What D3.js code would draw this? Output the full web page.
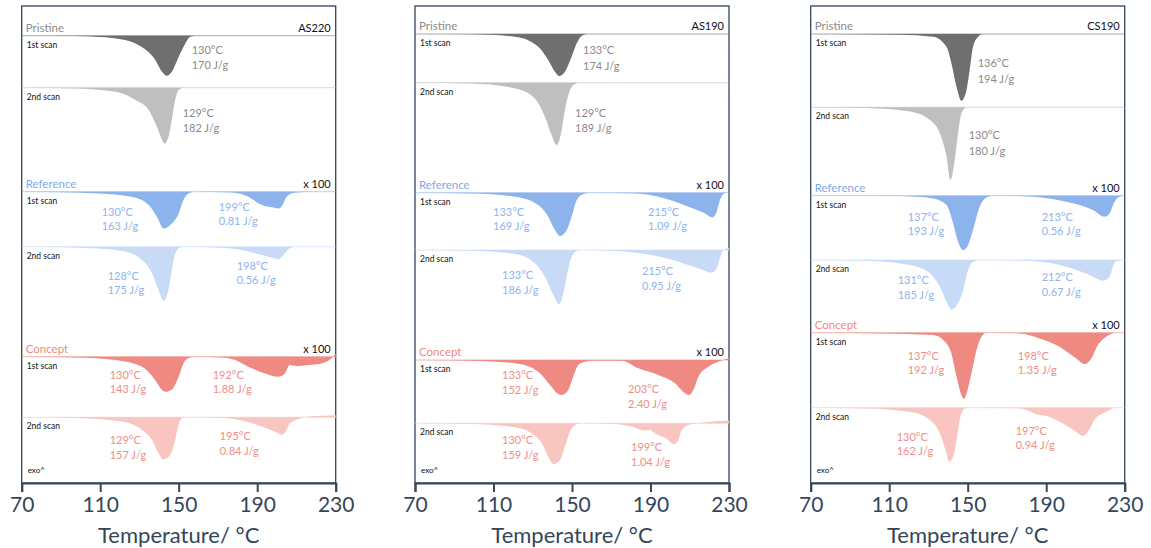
<!DOCTYPE html>
<html>
<head>
<meta charset="utf-8">
<script src="https://cdn.jsdelivr.net/npm/d3@7"></script>
<style>
  body { margin: 0; background: #fff; }
  text { font-family: Lato, "Open Sans", sans-serif; }
</style>
</head>
<body>
<svg width="1151" height="548"></svg>
<script>
const samples = ["AS220", "AS190", "CS190"];
const groups = ["Pristine", "Reference", "Concept"];
const scans = ["1st scan", "2nd scan"];
const tempTicks = [70, 110, 150, 190, 230];

// DSC traces: [T in °C, endothermic depth]
// rows: pristine 1st, pristine 2nd, reference 1st, reference 2nd, concept 1st, concept 2nd
const AS220_curves = [
  [[70,0],[97,0.3],[118,2.7],[131,11],[138,24],[141.5,36],[144,40],[146.5,36],[150,21],[153.3,8],[155.8,1],[159,0],[230,0]],
  [[70,0],[97,0.7],[118,4],[128,12.3],[134.7,22.3],[138.9,39],[141.5,52],[142.7,56],[144.8,49],[146.5,32],[148.2,12],[150,2.3],[152.5,0],[230,0]],
  [[70,0],[109,1.7],[126,5],[134.7,13.3],[138.9,25],[142.3,36.7],[146.5,31.7],[150,21.7],[152.4,8.3],[155,1.7],[158.4,0],[177,0.7],[185.5,5],[192.3,13.3],[198.2,15.7],[201.2,16.7],[203.3,11.7],[205,5],[209.2,1],[219,0],[230,0]],
  [[70,0],[109,1.7],[122.8,5],[131.3,13.3],[136.4,26.7],[139.7,43.3],[142.3,54],[144.8,43.3],[146.5,23.3],[148.2,6.7],[150.8,0.7],[153.3,0],[168.5,0.7],[182,3.3],[192.3,8.3],[199,11.7],[200.7,12.7],[203.3,8.3],[205.8,2.7],[209.2,0],[230,0]],
  [[70,0],[97.4,0.7],[117.7,3.3],[131.3,10],[138,23.3],[141.5,33.3],[143.1,35],[146.5,32.7],[150,20],[152.4,6.7],[155,1.3],[158.4,0],[171.9,0.7],[178.7,3.3],[185.5,10],[193.9,16.7],[200.7,20],[204.1,16.7],[206.6,8.3],[210,9.3],[215.9,8.3],[222.7,6.7],[227.8,1.7],[230,-2.7]],
  [[70,0],[100.8,1],[121.1,4.3],[131.3,12.7],[136.4,22.7],[139.7,36],[142.3,42],[145.7,37.7],[148.2,22.7],[149.9,7.7],[151.6,1],[154.1,0],[171.9,0.7],[182.1,3.3],[192.3,9.3],[200.7,16],[202.4,17.7],[204.9,12.7],[206.6,6],[212.6,1],[216,-0.7],[230,-2]]
];
const AS190_curves = [
  [[70,0],[98.9,0.3],[121,2.7],[132.8,12.7],[137.9,26],[141.3,37.7],[143.5,42],[146.4,37.7],[149.8,22.7],[152.4,9.3],[154.9,2],[158.3,0],[230,0]],
  [[70,0],[98.9,0.7],[121,5.7],[131.1,15.7],[136.2,34],[139.6,52.3],[142.2,62.3],[144.4,50.7],[146.4,27.3],[149,7.3],[151.5,1.3],[154.1,0],[230,0]],
  [[70,0],[98.9,0.7],[121,4],[132.8,12.3],[137.9,24],[141.3,37.3],[143.9,43.3],[147.3,37.3],[149.8,24],[152.4,7.3],[155.8,1.3],[160,0],[182.1,0.7],[197.4,5.7],[209.3,14],[217.8,20.7],[221.5,24.7],[223.7,19],[225.4,7.3],[227.1,1.3],[228.8,0],[230,0]],
  [[70,0],[98.9,0.7],[121,4],[131.1,13.3],[136.2,26.7],[140.5,45],[143.4,54.3],[145.6,43.3],[147.6,23.3],[149.8,6.7],[152.4,1],[154.9,0],[170.2,0.7],[190.6,5],[204.2,11.7],[214.4,18.3],[221.2,22.7],[223.7,18.3],[225.4,8.3],[227.1,0],[230,-2]],
  [[70,0],[98.9,0.7],[121,3.3],[132.8,11.7],[138.8,25],[143,34],[144.7,35],[148.1,30],[150.6,16.7],[153.2,5],[156.6,1.7],[160,0.7],[175.3,0.7],[183.8,8.3],[194,15],[202.5,23.3],[207.6,33.3],[209.6,35],[211.8,30],[214.4,16.7],[219.5,6.7],[224.6,1.7],[230,-1.7]],
  [[70,0],[98.9,0.7],[121,4],[129.4,10],[134.6,20],[137.9,33.3],[140.5,40.7],[143.9,36.7],[146.4,23.3],[149,8.3],[151.5,1.7],[154.9,0],[171.9,0.7],[180.4,3.3],[187.2,7.3],[189.7,6.7],[192.3,10],[199.1,16.7],[201.6,21],[204.2,16.7],[205.9,6.7],[209.3,1.7],[214.4,0],[230,-2.7]]
];
const CS190_curves = [
  [[70,0],[115.4,0.7],[132.4,2.7],[139.2,12.7],[141.7,29.3],[144.3,52.7],[146.8,66.7],[149.4,56],[151,36],[152.7,12.7],[155.3,2.7],[157.8,0],[230,0]],
  [[70,0],[98.5,0.7],[120.5,4.3],[130.7,12.7],[135.8,26],[139.2,49.3],[141.2,72.7],[143.4,52.7],[145.1,26],[146.8,6],[149.4,0],[230,0]],
  [[70,0],[115.4,0.3],[132.4,2.7],[139.2,9.3],[142.6,27.7],[145.1,46],[147.7,54.3],[150.2,49.3],[152.7,34.3],[156.1,11],[159.5,1.7],[162.9,0],[183.2,1],[200.2,6],[213.8,14.3],[219.7,21],[222.3,17.7],[224.8,6],[227.3,1],[230,0]],
  [[70,0],[98.5,0.7],[120.5,5],[130.7,13.3],[135.8,26.7],[139.2,41.7],[141.7,49.3],[145.1,43.3],[147.7,30],[150.2,10],[152.7,1.7],[156.1,0],[183.2,1],[200.2,6.7],[212.1,15],[219,20.7],[222.3,16.7],[224,6.7],[225.6,1],[230,0]],
  [[70,0],[107,0.7],[132.4,2.3],[137.5,7.3],[141.7,20.7],[144.3,44],[146.8,62.3],[148,66.3],[149.4,60.7],[151.9,40.7],[154.5,17.3],[157,4],[159.5,0],[176.5,0.7],[186.6,5.7],[196.8,14],[205.3,25.7],[209.6,31.3],[213,25.7],[216.3,12.3],[220.6,4],[225.7,0],[230,0]],
  [[70,0],[98.5,0.7],[120.5,4],[130.7,12.3],[135.8,25.7],[139.2,45.7],[140.5,54],[142.9,47.3],[144.6,29],[146.3,9],[148.5,0.7],[151,0],[176.5,0.7],[186.6,7.3],[190,8.3],[198.5,15.7],[205.3,24],[208.7,28.3],[211.2,24],[214.6,12.3],[220.6,4],[225.7,0],[230,0]]
];

// peak temperatures (°C) and enthalpies (J/g) per row
const AS220_Tm = [[130], [129], [130, 199], [128, 198], [130, 192], [129, 195]];
const AS220_dH = [[170], [182], [163, 0.81], [175, 0.56], [143, 1.88], [157, 0.84]];
const AS190_Tm = [[133], [129], [133, 215], [133, 215], [133, 203], [130, 199]];
const AS190_dH = [[174], [189], [169, 1.09], [186, 0.95], [152, 2.40], [159, 1.04]];
const CS190_Tm = [[136], [130], [137, 213], [131, 212], [137, 198], [130, 197]];
const CS190_dH = [[194], [180], [193, 0.56], [185, 0.67], [192, 1.35], [162, 0.94]];

const curves = [AS220_curves, AS190_curves, CS190_curves];
const Tm = [AS220_Tm, AS190_Tm, CS190_Tm];
const dH = [AS220_dH, AS190_dH, CS190_dH];

// layout
const panelLeft = [21.7, 415, 810.7];
const panelW = 314, frameTop = 6, frameBottom = 483;
const rowBase = [
  [35.7, 87.7, 191.7, 246.7, 356.7, 417.3],
  [34, 82.7, 192.7, 250, 360, 423.3],
  [34, 107.3, 195.7, 260, 332.7, 407.7]
];
// label offsets [dx from panel left, dy from row baseline]
const labelPos = [
  [[[170,18]], [[161,29]], [[80,24],[197,19]], [[86,33],[215,23]], [[88,22],[191,22]], [[88,27],[198,23]]],
  [[[168,20]], [[160,34]], [[78,23],[233,23]], [[87,29],[227,25]], [[87,19],[213,33]], [[87,21],[216,28]]],
  [[[167,33]], [[158,32]], [[97,25],[231,25]], [[87,24],[231,21]], [[97,27],[207,27]], [[86,33],[205,27]]]
];
const fillColors = ["#6f6f6f", "#bfbfbf", "#8cb3ec", "#c8dbf6", "#ef8a82", "#f8c5c1"];
const headColors = ["#8c8c8c", "#7eaaea", "#f08a82"];
const labelColors = ["#8a8a8a", "#8fb4ee", "#ef8e86"];
const axisColor = "#34465a";

const svg = d3.select("svg");
const depth = d3.scaleLinear().domain([0, 100]).range([0, 100]);

samples.forEach((name, p) => {
  const left = panelLeft[p];
  const x = d3.scaleLinear().domain([70, 230]).range([left, left + panelW]);
  const g = svg.append("g");

  g.append("rect")
    .attr("x", left).attr("y", frameTop)
    .attr("width", panelW).attr("height", frameBottom - frameTop)
    .attr("fill", "none").attr("stroke", axisColor).attr("stroke-width", 1.3);

  curves[p].forEach((pts, r) => {
    const base = rowBase[p][r];
    g.append("line")
      .attr("x1", left).attr("x2", left + panelW)
      .attr("y1", base).attr("y2", base)
      .attr("stroke", fillColors[r]).attr("stroke-opacity", 0.6).attr("stroke-width", 1);

    const area = d3.area()
      .x(d => x(d[0]))
      .y0(base)
      .y1(d => base + depth(d[1]))
      .curve(d3.curveMonotoneX);
    g.append("path").datum(pts).attr("d", area).attr("fill", fillColors[r]);

    g.append("text")
      .attr("x", left + 5).attr("y", base + 12)
      .attr("font-size", 8.5).attr("fill", "#111")
      .text(scans[r % 2]);

    const grp = Math.floor(r / 2);
    Tm[p][r].forEach((t, k) => {
      const pos = labelPos[p][r][k];
      const h = dH[p][r][k];
      const lines = [t + "°C", (h < 10 ? h.toFixed(2) : h) + " J/g"];
      const gap = grp === 0 ? 15.5 : 14.5;
      lines.forEach((s, i) => {
        g.append("text")
          .attr("x", left + pos[0]).attr("y", base + pos[1] + i * gap)
          .attr("font-size", 11).attr("fill", labelColors[grp])
          .text(s);
      });
    });
  });

  groups.forEach((gr, k) => {
    const base = rowBase[p][k * 2];
    g.append("text")
      .attr("x", left + 4).attr("y", base - 4)
      .attr("font-size", 11.5).attr("fill", headColors[k])
      .text(gr);
    g.append("text")
      .attr("x", left + panelW - 5).attr("y", base - 4)
      .attr("text-anchor", "end").attr("font-size", 11).attr("fill", "#111")
      .text(k === 0 ? name : "x 100");
  });

  g.append("text")
    .attr("x", left + 6).attr("y", frameBottom - 10)
    .attr("font-size", 8).attr("fill", "#111")
    .text("exo^");

  const axis = g.append("g")
    .attr("transform", `translate(0,${frameBottom})`)
    .call(d3.axisBottom(x).tickValues(tempTicks).tickSize(9).tickPadding(5));
  axis.select(".domain").attr("stroke", axisColor).attr("stroke-width", 2);
  axis.selectAll(".tick line").attr("stroke", axisColor).attr("stroke-width", 2);
  axis.selectAll(".tick text")
    .attr("fill", axisColor).attr("font-size", 21)
    .attr("font-family", "Lato, 'Open Sans', sans-serif");

  g.append("text")
    .attr("x", left + panelW / 2).attr("y", 543)
    .attr("text-anchor", "middle").attr("font-size", 22).attr("fill", axisColor)
    .text("Temperature/ °C");
});
</script>
</body>
</html>
